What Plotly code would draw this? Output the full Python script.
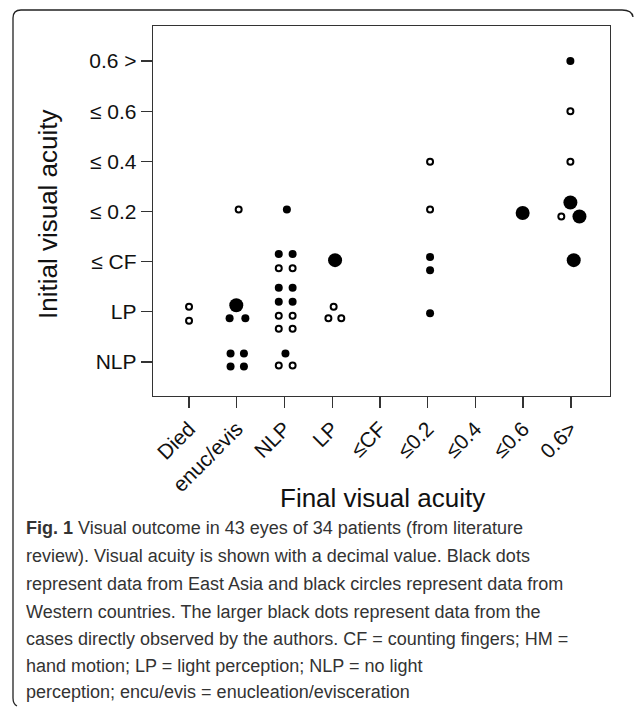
import plotly.graph_objects as go

# Category labels
final_labels = ["Died", "enuc/evis", "NLP", "LP", "≤CF", "≤0.2", "≤0.4", "≤0.6", "0.6>"]
initial_labels = ["NLP", "LP", "≤ CF", "≤ 0.2", "≤ 0.4", "≤ 0.6", "0.6 >"]

# East Asia (small black dots): final (x), initial (y), jittered positions as read
asia_x = [3.05, 2.88, 3.17, 2.88, 3.17, 2.88, 3.17, 1.85, 2.18, 1.87, 2.15, 1.87, 2.15, 3.02, 6.05, 6.05, 6.05, 8.99]
asia_y = [4.04, 3.15, 3.15, 2.48, 2.48, 2.20, 2.20, 1.87, 1.87, 1.17, 1.17, 0.91, 0.91, 1.17, 3.09, 2.83, 1.97, 7.00]

# Western countries (black circles)
west_x = [2.04, 2.88, 3.17, 2.88, 3.17, 2.88, 3.17, 1.00, 1.00, 2.88, 3.17, 4.03, 3.92, 4.19, 6.05, 6.05, 8.99, 8.99, 8.80]
west_y = [4.04, 2.87, 2.87, 1.92, 1.92, 1.66, 1.66, 2.10, 1.82, 0.93, 0.93, 2.10, 1.87, 1.87, 4.99, 4.04, 6.00, 4.99, 3.90]

# Cases observed by the authors (larger black dots)
own_x = [4.06, 1.99, 7.99, 8.99, 9.18, 9.06]
own_y = [3.03, 2.13, 3.97, 4.18, 3.90, 3.03]

caption_lines = [
    "<b>Fig. 1</b> Visual outcome in 43 eyes of 34 patients (from literature",
    "review). Visual acuity is shown with a decimal value. Black dots",
    "represent data from East Asia and black circles represent data from",
    "Western countries. The larger black dots represent data from the",
    "cases directly observed by the authors. CF = counting fingers; HM =",
    "hand motion; LP = light perception; NLP = no light",
    "perception; encu/evis = enucleation/evisceration",
]

W, H = 635, 708
L, R, T, B = 153, 610, 26, 396

fig = go.Figure()
fig.add_trace(go.Scatter(x=asia_x, y=asia_y, mode="markers",
                         marker=dict(size=8, color="black", line=dict(width=0)),
                         hoverinfo="skip", showlegend=False))
fig.add_trace(go.Scatter(x=west_x, y=west_y, mode="markers",
                         marker=dict(size=6, color="white", line=dict(width=2, color="black")),
                         hoverinfo="skip", showlegend=False))
fig.add_trace(go.Scatter(x=own_x, y=own_y, mode="markers",
                         marker=dict(size=14, color="black", line=dict(width=0)),
                         hoverinfo="skip", showlegend=False))

axis_font = dict(family="Liberation Sans, Arial, sans-serif", size=21, color="#111")

fig.update_xaxes(range=[0.245, 9.82], tickmode="array",
                 tickvals=list(range(1, len(final_labels) + 1)), ticktext=final_labels,
                 tickangle=-45, ticks="outside", ticklen=11, tickwidth=1.3, tickcolor="#333",
                 showline=True, linecolor="#333", linewidth=1.3, mirror=True,
                 showgrid=False, zeroline=False, tickfont=axis_font, automargin=False)
fig.update_yaxes(range=[0.32, 7.70], tickmode="array",
                 tickvals=list(range(1, len(initial_labels) + 1)), ticktext=initial_labels,
                 ticks="outside", ticklen=11, tickwidth=1.3, tickcolor="#333",
                 showline=True, linecolor="#333", linewidth=1.3, mirror=True,
                 showgrid=False, zeroline=False, tickfont=axis_font, automargin=False)

pw, ph = R - L, B - T
def px(x):
    return (x - L) / pw
def py(y):
    return (B - y) / ph

title_font = dict(family="Liberation Sans, Arial, sans-serif", size=26, color="#111")
annotations = [
    dict(text="Initial visual acuity", x=px(48), y=py(214), xref="paper", yref="paper",
         showarrow=False, textangle=-90, xanchor="center", yanchor="middle", font=title_font),
    dict(text="Final visual acuity", x=px(382), y=py(498), xref="paper", yref="paper",
         showarrow=False, xanchor="center", yanchor="middle", font=title_font),
]
line_ys = [528, 556, 584, 612, 639, 666, 692]
for txt, ly in zip(caption_lines, line_ys):
    annotations.append(dict(text=txt, x=px(24), y=py(ly), xref="paper", yref="paper",
                            showarrow=False, xanchor="left", yanchor="middle",
                            font=dict(family="Liberation Sans, Arial, sans-serif",
                                      size=18, color="#333")))

# Outer frame (top and left edges with rounded corners)
x0, y0 = 13, 10
frame_path = (f"M {px(x0 + 4)},{py(706)} Q {px(x0)},{py(704)} {px(x0)},{py(698)} "
              f"L {px(x0)},{py(y0 + 8)} Q {px(x0)},{py(y0)} {px(x0 + 8)},{py(y0)} "
              f"L {px(622)},{py(y0)} Q {px(632)},{py(y0)} {px(633)},{py(y0 + 7)}")
shapes = [dict(type="path", path=frame_path, xref="paper", yref="paper",
               line=dict(color="#222", width=1.3))]

fig.update_layout(width=W, height=H, margin=dict(l=L, r=W - R, t=T, b=H - B),
                  plot_bgcolor="white", paper_bgcolor="white",
                  annotations=annotations, shapes=shapes, showlegend=False)

fig.write_html("out.html", config={"displayModeBar": False, "staticPlot": True},
               post_script="document.body.style.margin='0';document.body.style.overflow='hidden';")
